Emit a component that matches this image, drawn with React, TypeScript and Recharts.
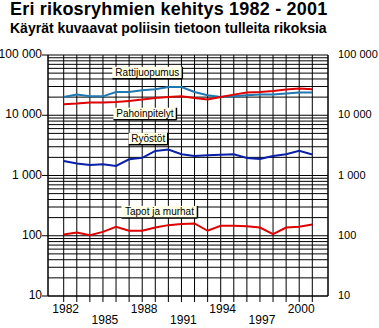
import React from 'react';
import { LineChart, Line, XAxis, YAxis, CartesianGrid, ReferenceLine, ReferenceDot } from 'recharts';

const FONT = '"Liberation Sans", Arial, sans-serif';

const years = [1982, 1983, 1984, 1985, 1986, 1987, 1988, 1989, 1990, 1991, 1992, 1993, 1994, 1995, 1996, 1997, 1998, 1999, 2000, 2001];
const rattijuopumus = [20100, 22000, 20600, 20600, 24300, 24300, 25900, 27000, 29500, 29500, 24300, 21500, 20100, 20600, 21500, 22000, 22000, 22900, 23800, 23800];
const pahoinpitelyt = [15200, 15600, 16300, 16300, 16600, 17300, 18200, 19400, 20100, 20700, 19400, 18200, 20100, 22000, 23800, 24300, 25300, 26700, 27700, 27000];
const ryostot = [1745, 1580, 1500, 1540, 1440, 1860, 1960, 2560, 2700, 2250, 2110, 2170, 2200, 2250, 1960, 1880, 2110, 2250, 2560, 2230];
const tapot = [105, 113, 102, 116, 141, 121, 121, 137, 150, 156, 160, 121, 146, 146, 144, 137, 106, 137, 141, 154];

const majorTicks = [10, 100, 1000, 10000, 100000];
const minorSteps = [2, 3, 4, 5, 6, 7, 8, 9];
const minorTicks = [10, 100, 1000, 10000].flatMap(d => minorSteps.map(m => m * d));

// label boxes, anchored in data units
const seriesLabels = [
  { text: 'Rattijuopumus', year: 1988.39, value: 50700, w: 70 },
  { text: 'Pahoinpitelyt', year: 1988.21, value: 10600, w: 63 },
  { text: 'Ryöstöt', year: 1988.46, value: 4070, w: 39 },
  { text: 'Tapot ja murhat', year: 1989.32, value: 249, w: 76 },
];

const data = years.map((year, i) => ({
  year,
  ratti: rattijuopumus[i],
  pahoin: pahoinpitelyt[i],
  ryosto: ryostot[i],
  tapot: tapot[i],
}));

const fmt = (v: number) => String(v).replace(/\B(?=(\d{3})+(?!\d))/g, ' ');

const YearTick = (props: any) => {
  const { x, y, payload } = props;
  const i = payload.value - 1982;
  if (i % 3 !== 0) return null;
  const row = i % 6 === 0 ? 0 : 1;
  return (
    <text x={x + 2} y={y + 9 + row * 11} textAnchor="middle" fontSize={12} fontFamily={FONT} fill="#000">
      {payload.value}
    </text>
  );
};

const LeftTick = (props: any) => {
  const { x, y, payload } = props;
  return (
    <text x={x} y={y + 3} textAnchor="end" fontSize={12} fontFamily={FONT} fill="#000">
      {fmt(payload.value)}
    </text>
  );
};

const RightTick = (props: any) => {
  const { x, y, payload } = props;
  return (
    <text x={x} y={y + 3} textAnchor="start" fontSize={11} fontFamily={FONT} fill="#000">
      {fmt(payload.value)}
    </text>
  );
};

const LabelBox = ({ cx, cy, text, w }: any) => {
  const h = 12;
  const x0 = cx - w / 2;
  const y0 = cy - h / 2;
  return (
    <g>
      <rect x={x0} y={y0} width={w} height={h} fill="#ffffe8" />
      <line x1={x0 + w} y1={y0} x2={x0 + w} y2={y0 + h} stroke="#000" strokeWidth={1.5} />
      <line x1={x0} y1={y0 + h} x2={x0 + w} y2={y0 + h} stroke="#000" strokeWidth={1.5} />
      <text x={cx} y={cy + 3.5} textAnchor="middle" fontSize={10} fontFamily={FONT} fill="#000">
        {text}
      </text>
    </g>
  );
};

export default function App() {
  return (
    <div style={{ position: 'absolute', left: 0, top: 0, width: 379, height: 328, background: '#fff', fontFamily: FONT }}>
      <div style={{ position: 'absolute', left: 10, top: 0, fontSize: 18, lineHeight: '18px', letterSpacing: 0.2, fontWeight: 'bold', whiteSpace: 'nowrap' }}>
        Eri rikosryhmien kehitys 1982 - 2001
      </div>
      <div style={{ position: 'absolute', left: 10, top: 21, fontSize: 14, lineHeight: '14px', fontWeight: 'bold', whiteSpace: 'nowrap' }}>
        Käyrät kuvaavat poliisin tietoon tulleita rikoksia
      </div>
      <div style={{ position: 'absolute', left: 0, top: 0 }}>
        <LineChart width={379} height={328} data={data} margin={{ top: 55, right: 0, bottom: 0, left: 0 }}>
          <CartesianGrid stroke="#000" strokeWidth={1} />
          {minorTicks.map(v => (
            <ReferenceLine key={v} y={v} stroke="#000" strokeWidth={1} />
          ))}
          <XAxis
            dataKey="year"
            type="number"
            domain={[1980.8, 2002.2]}
            ticks={years}
            interval={0}
            height={32}
            tickSize={6}
            tickMargin={2}
            stroke="#000"
            axisLine={{ stroke: '#000' }}
            tickLine={{ stroke: '#000' }}
            tick={<YearTick />}
          />
          <YAxis
            scale="log"
            domain={[10, 100000]}
            ticks={majorTicks}
            allowDataOverflow
            width={48}
            tickSize={6}
            tickMargin={0}
            axisLine={{ stroke: '#000' }}
            tickLine={{ stroke: '#000' }}
            tick={<LeftTick />}
          />
          <YAxis
            yAxisId="r"
            orientation="right"
            scale="log"
            domain={[10, 100000]}
            ticks={majorTicks}
            allowDataOverflow
            width={51}
            tickSize={8}
            tickMargin={2}
            axisLine={{ stroke: '#000' }}
            tickLine={false}
            tick={<RightTick />}
          />
          <Line dataKey="ratti" stroke="#1f78b0" strokeWidth={2} dot={false} isAnimationActive={false} />
          <Line dataKey="pahoin" stroke="#e00000" strokeWidth={2} dot={false} isAnimationActive={false} />
          <Line dataKey="ryosto" stroke="#0a1fa8" strokeWidth={2} dot={false} isAnimationActive={false} />
          <Line dataKey="tapot" stroke="#e00000" strokeWidth={2} dot={false} isAnimationActive={false} />
          {seriesLabels.map(l => (
            <ReferenceDot
              key={l.text}
              x={l.year}
              y={l.value}
              r={0}
              shape={(p: any) => <LabelBox cx={p.cx} cy={p.cy} text={l.text} w={l.w} />}
            />
          ))}
        </LineChart>
      </div>
    </div>
  );
}
